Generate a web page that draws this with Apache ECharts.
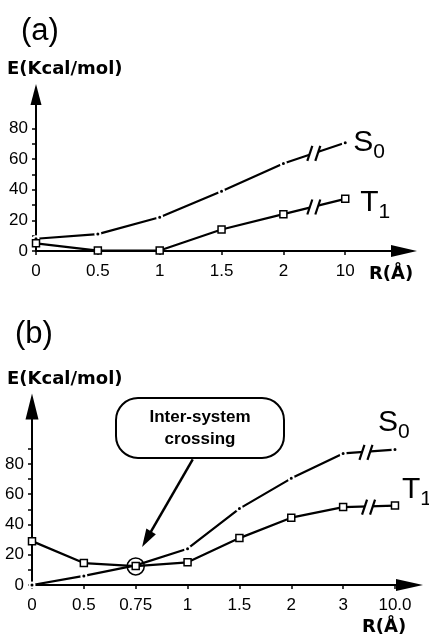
<!DOCTYPE html>
<html>
<head>
<meta charset="utf-8">
<script src="https://cdn.jsdelivr.net/npm/echarts@6/dist/echarts.min.js"></script>
<style>
  html, body { margin: 0; padding: 0; background: #fff; }
  #chart { width: 429px; height: 639px; }
</style>
</head>
<body>
<div id="chart"></div>
<script>
// panel (a)
const ticksA = ['0', '0.5', '1', '1.5', '2', '10'];
const s0A = [8, 11, 22, 39, 57, 70.5];
const t1A = [5, 0.3, 0.3, 14, 24, 34];
const breaksA = [[4.5, 64], [4.5, 29]];

// panel (b)
const ticksB = ['0', '0.5', '0.75', '1', '1.5', '2', '3', '10.0'];
const s0B = [0, 6, 13, 24, 50.5, 70.5, 87, 89.5];
const t1B = [29, 14.5, 12.5, 15, 31, 44.5, 51.5, 52.5];
const breaksB = [[6.45, 88], [6.5, 51.8]];
const crossB = [2, 12.3];

const yTicksA = [0, 10, 20, 30, 40, 50, 60, 70, 80];
const yTicksB = [0, 10, 20, 30, 40, 50, 60, 70, 80, 90];
const yLabels = [0, 20, 40, 60, 80];

let chart = echarts.init(document.getElementById('chart'))

const FONT = 'Liberation Sans'
const idx = arr => arr.map((v, i) => [i, v])

function xAxes(grid, labels, max, arrow, inside) {
    return {
        type: 'value', gridIndex: grid, min: 0, max: max,
        axisLine: inside ? { show: false } : {
            show: true, symbol: ['none', 'triangle'], symbolSize: arrow,
            lineStyle: { color: '#000', width: 2 }
        },
        axisTick: {
            show: true, inside: inside, length: 4,
            customValues: labels.map((l, i) => i),
            lineStyle: { color: '#000', width: 1.5 }
        },
        axisLabel: inside ? { show: false } : {
            show: true, margin: 12, color: '#000', fontFamily: FONT, fontSize: 17,
            customValues: labels.map((l, i) => i),
            formatter: v => labels[v]
        },
        splitLine: { show: false }
    }
}

function yAxes(grid, ticks, max, arrow, inside) {
    return {
        type: 'value', gridIndex: grid, min: 0, max: max,
        axisLine: inside ? { show: false } : {
            show: true, symbol: ['none', 'triangle'], symbolSize: arrow,
            lineStyle: { color: '#000', width: 2 }
        },
        axisTick: {
            show: true, inside: inside, length: 4,
            customValues: ticks,
            lineStyle: { color: '#000', width: 1.5 }
        },
        axisLabel: inside ? { show: false } : {
            show: true, margin: 8, color: '#000', fontFamily: FONT, fontSize: 17,
            customValues: yLabels
        },
        splitLine: { show: false }
    }
}

// the "//" axis-break sign drawn across a line
function renderBreak(params, api) {
    let p = api.coord([api.value(0), api.value(1)])
    let x = p[0], y = p[1]
    return {
        type: 'group',
        children: [
            { type: 'polygon', shape: { points: [[x - 6, y + 6], [x + 2, y + 6], [x + 6, y - 6], [x - 2, y - 6]] }, style: { fill: '#fff' } },
            { type: 'line', shape: { x1: x - 7, y1: y + 8, x2: x - 2, y2: y - 7 }, style: { stroke: '#000', lineWidth: 2.2 } },
            { type: 'line', shape: { x1: x + 1, y1: y + 8, x2: x + 6, y2: y - 7 }, style: { stroke: '#000', lineWidth: 2.2 } }
        ]
    }
}

function richName() {
    return {
        m: { fontFamily: FONT, fontSize: 30, lineHeight: 40, color: '#000' },
        s: { fontFamily: FONT, fontSize: 21, lineHeight: 40, verticalAlign: 'bottom', color: '#000' }
    }
}

function s0Series(data, xi, yi, offset) {
    return {
        type: 'line', xAxisIndex: xi, yAxisIndex: yi, data: idx(data), z: 2,
        symbol: 'circle', symbolSize: 5, showAllSymbol: true,
        itemStyle: { color: '#000', borderColor: '#fff', borderWidth: 2 },
        lineStyle: { color: '#000', width: 2.2 },
        endLabel: { show: true, formatter: '{m|S}{s|0}', rich: richName(), distance: 0, offset: offset }
    }
}

function t1Series(data, xi, yi, offset) {
    return {
        type: 'line', xAxisIndex: xi, yAxisIndex: yi, data: idx(data), z: 3,
        symbol: 'rect', symbolSize: 7, showAllSymbol: true,
        itemStyle: { color: '#fff', borderColor: '#000', borderWidth: 1.5 },
        lineStyle: { color: '#000', width: 2.2 },
        endLabel: { show: true, formatter: '{m|T}{s|1}', rich: richName(), distance: 0, offset: offset }
    }
}

let titleStyle = { fontFamily: 'DejaVu Sans', fontWeight: 'bold', fontSize: 18, color: '#000' }
let panelStyle = { fontFamily: FONT, fontWeight: 'normal', fontSize: 31, color: '#000' }

let option = {
    animation: false,
    backgroundColor: '#fff',
    title: [
        { text: '(a)', left: 21, top: 16, padding: 0, textStyle: panelStyle },
        { text: 'E(Kcal/mol)', left: 7, top: 60, padding: 0, textStyle: titleStyle },
        { text: 'R(Å)', left: 369, top: 265, padding: 0, textStyle: titleStyle },
        { text: '(b)', left: 15, top: 319, padding: 0, textStyle: panelStyle },
        { text: 'E(Kcal/mol)', left: 7, top: 370, padding: 0, textStyle: titleStyle },
        { text: 'R(Å)', left: 362, top: 618, padding: 0, textStyle: titleStyle }
    ],
    grid: [
        { left: 36, right: 25, top: 94.5, bottom: 388 },
        { left: 32, right: 19.5, top: 406.5, bottom: 54 }
    ],
    xAxis: [
        xAxes(0, ticksA, 5.95, [12, 26], false),
        xAxes(0, ticksA, 5.95, [12, 26], true),
        xAxes(1, ticksB, 7.28, [12, 27], false),
        xAxes(1, ticksB, 7.28, [12, 27], true)
    ],
    yAxis: [
        yAxes(0, yTicksA, 102, [11, 21], false),
        yAxes(0, yTicksA, 102, [11, 21], true),
        yAxes(1, yTicksB, 118, [13, 26], false),
        yAxes(1, yTicksB, 118, [13, 26], true)
    ],
    graphic: [
        {
            type: 'group', left: 115, top: 397,
            children: [
                { type: 'rect', shape: { x: 0, y: 0, width: 168, height: 60, r: 22 }, style: { fill: '#fff', stroke: '#000', lineWidth: 2 } },
                { type: 'text', x: 84, y: 30, style: { text: 'Inter-system\ncrossing', fontFamily: FONT, fontWeight: 'bold', fontSize: 17, lineHeight: 22, align: 'center', verticalAlign: 'middle', fill: '#000' } }
            ]
        }
    ],
    series: [
        s0Series(s0A, 0, 0, [8, 0]),
        t1Series(t1A, 0, 0, [15, 4]),
        { type: 'custom', xAxisIndex: 0, yAxisIndex: 0, data: breaksA, renderItem: renderBreak, z: 5, clip: false },

        s0Series(s0B, 2, 2, [-17, -27]),
        Object.assign(t1Series(t1B, 2, 2, [7, -16]), {
            markPoint: {
                symbol: 'circle', symbolSize: 17, silent: true,
                itemStyle: { color: 'rgba(0,0,0,0)', borderColor: '#000', borderWidth: 1.5 },
                label: { show: false },
                data: [{ coord: crossB }]
            },
            markLine: {
                silent: true, symbol: ['none', 'triangle'], symbolSize: [11, 18],
                lineStyle: { color: '#000', width: 2.5, type: 'solid' },
                label: { show: false },
                data: [[{ coord: [3.1, 83] }, { coord: [2.21, 30.3] }]]
            }
        }),
        { type: 'custom', xAxisIndex: 2, yAxisIndex: 2, data: breaksB, renderItem: renderBreak, z: 5, clip: false }
    ]
};

chart.setOption(option)
</script>
</body>
</html>
